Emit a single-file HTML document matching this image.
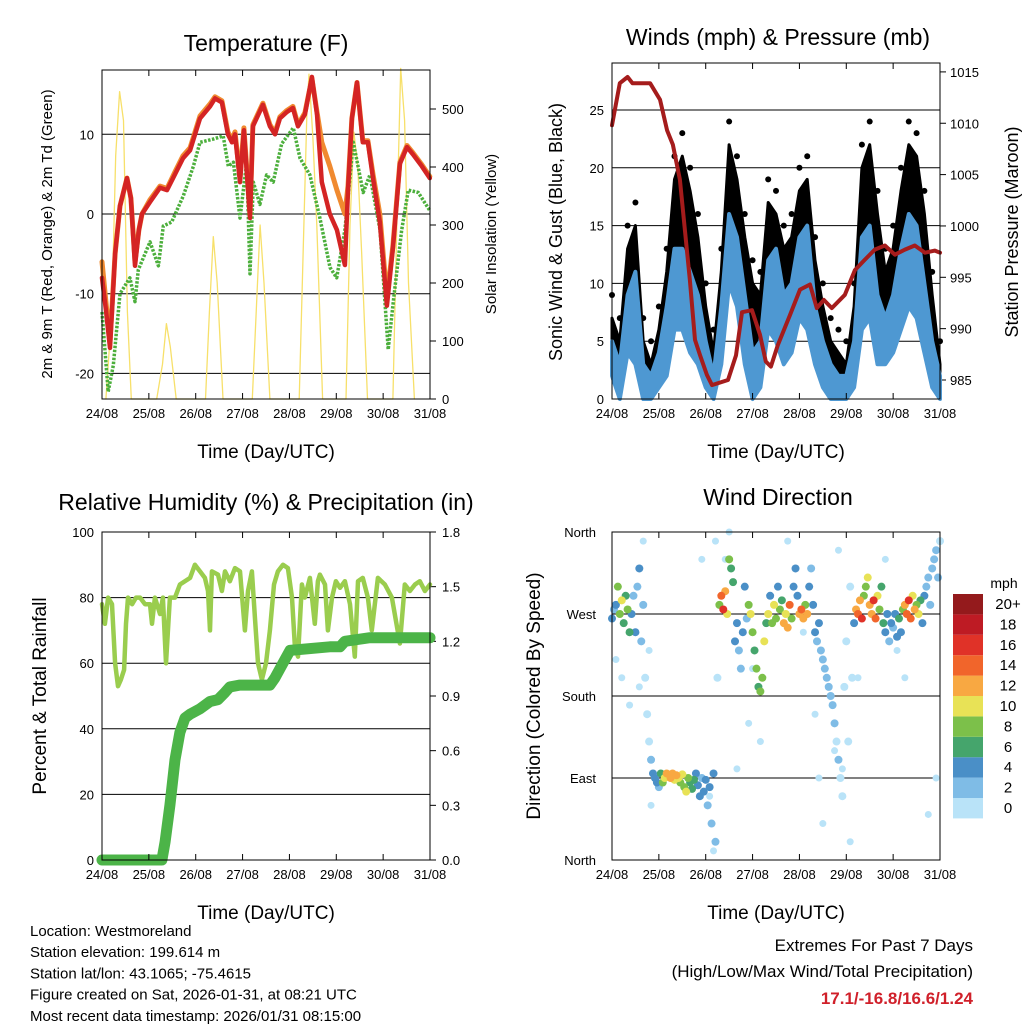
<!DOCTYPE html>
<html><head><meta charset="utf-8"><style>
body{margin:0;background:#fff;}
svg{display:block;font-family:"Liberation Sans",sans-serif;}
</style></head><body>
<svg id="c" width="1024" height="1024" viewBox="0 0 1024 1024" xmlns="http://www.w3.org/2000/svg"></svg>
<script>
// ---------- DATA ----------
const dayLabels=["24/08","25/08","26/08","27/08","28/08","29/08","30/08","31/08"];
const tempTicks=[-20,-10,0,10];
const solarTicks=[0,100,200,300,400,500];
const windTicks=[0,5,10,15,20,25];
const presTicks=[985,990,995,1000,1005,1010,1015];
const rhTicks=[0,20,40,60,80,100];
const precipTicks=["0.0","0.3","0.6","0.9","1.2","1.5","1.8"];
const dirLabels=["North","East","South","West","North"];
const legendLabels=["0","2","4","6","8","10","12","14","16","18","20+"];
const legendColors=["#b9e3f8","#7fbce6","#4a8fc7","#45a56c","#7cc04a","#e8e256","#f8a842","#f1652b","#e03228","#be1b24","#941a1c"];

const redHours=[0,2,4.1,6.7,9.2,12.8,14.8,16.9,18.9,20.5,24.6,29.7,33.3,37.4,41.5,45.1,50.2,55.3,57.9,61.4,64.5,66.6,68.1,70.7,72.7,75.8,77.3,82.4,86,88.6,91.1,94.7,97.8,100.4,103.9,107.5,110.1,112.6,116.7,120.3,124.4,126,128,130.6,133.6,136.2,138.8,142.3,145.9,149,152.6,156.2,159.2,163.8,167.9];
const redTemp=[-8,-12,-16.8,-5,1,4.5,2,-6.5,-2,0,1.5,3.3,3,5,7,8,12,13.5,14.5,14,10,9,10,4,10.5,-0.5,11,13.7,11,10,12,12.8,13.3,11,12.5,17.2,12.5,4,0,-2,-6.4,3,12,16.5,9,9,4.5,-1,-11.5,-4.3,6.3,8.4,7.5,6,4.5];
const orangeTemp=[-6,-11,-16,-5,1,4.5,2,-6,-2,0,1.8,3.5,3.2,5.3,7.3,8.3,12.3,13.8,14.7,14.2,10.3,9.3,10.3,4.5,10.8,0,11.2,13.9,11.2,10.2,12.2,13,13.5,11.2,12.7,17,12.8,9,6,3,0,3.5,12,16.5,9.2,9.2,5,0,-10.5,-4,6.5,8.6,7.7,6.2,4.7];
const tdHours=[0,3.2,5.8,9.2,14.3,16.9,18.6,24.6,28.9,31.4,35.7,41.7,46.8,50.2,57,62.1,64.7,67.3,70.7,74.1,75.8,77.5,80.9,84.3,87.7,92,98,101.4,106.5,111.6,116.8,120.2,124.4,128.7,133.8,137.2,142.4,146.6,149.2,153.5,156.9,162,168];
const tdTemp=[-12.3,-22.3,-19,-10,-8,-11,-7,-3.5,-6.5,-1.5,-1,2.3,6,9,9.4,9.8,6,6.5,-0.5,6.5,-7.5,4,1.2,4.9,4,8.8,10.8,7,4.9,-0.5,-6.7,-8,-2,9,2.7,4.9,-2,-17,-11,-2,3,2.7,0.4];
const solarHours=[2,5,7,9,11,13,15,28,31,33,35,38,53,55,57,59,62,77,79,81,83,86,101,103,105,106,108,110,113,125,127,129,131,133,136,149,151,153,155,157,160];
const solarVals=[0,150,420,530,480,150,0,0,60,130,90,0,0,150,280,200,0,0,150,300,200,0,0,250,500,560,450,300,0,0,300,460,400,250,0,0,300,570,480,200,0];

const windHours=[0,4,8,12,16,20,24,28,32,36,40,44,48,52,56,60,64,68,72,76,80,84,88,92,96,100,104,108,112,116,120,124,128,132,136,140,144,148,152,156,160,164,168];
const windLow=[2,0,4,3,0,0,1,2,6,6,4,3,1,0,3,10,8,3,0,1,6,5,3,4,7,6,3,1,0,0,0,1,6,7,3,3,4,6,8,7,4,1,0];
const windHigh=[5,3,9,11,3,2,4,8,13,13,11,9,5,2,8,16,14,9,4,5,12,13,9,10,14,15,8,5,3,2,2,5,14,15,9,7,9,13,16,15,10,5,2];
const gustVals=[7,5,13,15,5,3,6,11,19,21,18,14,8,4,11,22,19,14,10,9,17,16,13,14,18,19,12,8,5,4,3,8,20,22,16,11,13,18,22,21,16,9,3];
const presHours=[0,4,8,10.5,19.5,24.6,28.2,31.2,34.8,39.9,42.5,45.1,48.6,51.2,59.4,63.5,66.6,71.7,75.8,78.8,81.4,84.9,91.1,96.3,101.4,104.9,108.5,112.6,119.3,124.4,129.5,134.6,139.8,144.9,150,155.1,160.3,165.4,168];
const presVals=[1009.8,1013.9,1014.5,1013.9,1013.9,1012.3,1009.3,1007.9,1004.5,994.7,988.9,987.4,985.5,984.5,985,987.4,991.6,991.8,989.4,986.8,986.3,988.4,991.3,993.8,994.3,992,992.8,992,993.3,995.7,996.7,997.7,998.1,997.2,997.7,998.1,997.4,997.6,997.4];

const rhHours=[0,1.5,3.1,5.1,6.7,8.2,9.7,11.3,12.3,13.3,15.4,17.4,19.5,22,24.6,25.6,27.1,29.7,31.2,32.8,34.8,37.4,39.9,45.1,47.6,50.2,52.7,54.3,55.3,56.3,59.4,61.4,63,65.5,68.1,70.7,73.2,74.8,76.8,78.3,79.9,81.9,84,86,88.1,90.1,92.7,95.2,97.3,98.8,100.4,102.4,103.9,106.5,109,110.6,111.6,114.2,115.7,117.8,119.8,121.9,124.4,127,129.5,131.1,133.6,136.2,138.2,141.3,144.9,148.5,152.6,155.1,157.7,160.3,162.8,165.4,168];
const rhVals=[78,72,80,78,60,53,55,58,72,80,78,80,80,78,78,72,80,75,80,60,80,80,84,86,90,88,86,82,70,88,87,82,88,85,89,88,70,82,88,74,60,55,60,70,84,88,90,89,80,65,62,84,80,86,72,85,87,84,70,80,85,83,85,78,62,85,86,80,70,86,84,80,66,84,82,84,85,82,84];
const precipHours=[0,30.7,32.3,34.8,37.4,39.9,42.5,45.1,50.2,55.3,59.4,63,65.5,70.7,86,88.6,93.7,96.3,116.7,121.9,124.4,137.2,168];
const precipVals=[0,0,0.1,0.3,0.55,0.7,0.78,0.8,0.83,0.87,0.88,0.92,0.95,0.96,0.96,1.0,1.1,1.15,1.17,1.17,1.2,1.22,1.22];

const dirHours=[
 0,1,2,3,4,5,6,7,8,9,
 10,11,12,13,14,15,16,17,18,19,
 20,21,22,23,24,25,26,27,28,29,
 30,31,32,33,34,35,36,37,38,39,
 40,41,42,43,44,45,46,47,48,49,
 50,51,52,53,54,55,56,57,58,59,
 60,61,62,63,64,65,66,67,68,69,
 70,71,72,73,74,75,76,77,78,79,
 80,81,82,83,84,85,86,87,88,89,
 90,91,92,93,94,95,96,97,98,99,
 100,101,102,103,104,105,106,107,108,109,
 110,111,112,113,114,115,116,117,118,119,
 120,121,122,123,124,125,126,127,128,129,
 130,131,132,133,134,135,136,137,138,139,
 140,141,142,143,144,145,146,147,148,149,
 150,151,152,153,154,155,156,157,158,159,
 160,161,162,163,164,165,166,167,168];
const dirVals=[
 265,275,280,300,270,285,260,290,275,250,
 270,290,250,300,320,240,280,200,160,130,
 110,95,90,85,80,95,85,90,95,92,
 90,95,88,93,90,85,94,80,75,90,
 85,78,88,95,82,70,90,75,88,60,
 80,40,95,20,200,280,290,275,295,270,
 330,320,305,240,260,230,210,250,300,265,
 280,270,250,230,210,190,185,200,240,260,
 270,290,260,280,265,300,275,285,260,270,
 255,280,265,300,320,290,270,275,265,280,
 270,300,320,280,250,240,260,230,220,210,
 200,190,180,170,150,130,110,90,70,190,
 240,130,300,200,260,275,270,285,265,290,
 300,310,280,270,285,265,290,275,300,260,
 250,270,240,260,255,270,245,265,250,275,
 280,270,285,265,290,275,280,270,285,260,
 290,300,310,280,320,330,340,310,350];
const dirSpeed=[
 4,3,5,8,9,10,7,6,8,6,
 4,3,5,2,4,2,3,1,1,1,
 2,4,5,4,3,6,8,10,12,11,
 12,12,10,12,11,8,10,9,10,8,
 6,7,6,4,5,4,3,5,4,3,
 5,3,4,2,1,8,14,16,13,10,
 9,6,7,5,4,3,2,4,5,3,
 8,10,8,7,9,7,8,9,11,6,
 10,4,8,10,8,4,9,6,12,10,
 13,15,9,5,4,4,12,14,13,9,
 12,4,3,4,4,3,4,3,3,2,
 3,2,3,2,2,1,2,1,1,1,
 1,1,1,1,4,12,15,13,16,9,
 8,10,13,12,16,14,11,8,7,6,
 4,4,3,4,3,5,4,6,4,8,
 12,14,16,14,11,13,9,11,6,5,
 4,3,3,2,2,3,2,3,1];
const scatterHours=[2,5,9,14,16,19,20,46,50,52,53,58,60,64,70,72,76,90,98,104,106,108,114,116,118,122,126,140,146,150,162,166];
const scatterDirs=[220,200,170,190,350,230,60,330,70,10,350,330,360,100,150,210,130,350,250,160,90,40,120,340,100,20,200,330,230,200,50,90];

// ---------- helpers ----------
const NS="http://www.w3.org/2000/svg";
const svg=document.getElementById('c');
function mk(tag,attrs,parent){const e=document.createElementNS(NS,tag);for(const k in attrs)e.setAttribute(k,attrs[k]);(parent||svg).appendChild(e);return e;}
function txt(s,x,y,size,anchor,parent,extra){const t=mk('text',Object.assign({x:x,y:y,'font-size':size,'text-anchor':anchor||'middle',fill:'#000'},extra||{}),parent);t.textContent=s;return t;}
function line(pts,stroke,w,parent,extra){return mk('polyline',Object.assign({points:pts.map(p=>p[0].toFixed(1)+','+p[1].toFixed(1)).join(' '),fill:'none',stroke:stroke,'stroke-width':w,'stroke-linejoin':'round','stroke-linecap':'round'},extra||{}),parent);}
function panelX(x0){return h=>x0+h*328/168;}

function frame(g,x0,y0,w,h){
  for(let i=0;i<dayLabels.length;i++){
    const x=x0+i*w/7;
    mk('line',{x1:x,y1:y0+h,x2:x,y2:y0+h-6,stroke:'#000','stroke-width':1},g);
    mk('line',{x1:x,y1:y0,x2:x,y2:y0+6,stroke:'#000','stroke-width':1},g);
    const t=txt(dayLabels[i],x,y0+h+19,13,'middle',g);
    
    
  }
  mk('rect',{x:x0,y:y0,width:w,height:h,fill:'none',stroke:'#000','stroke-width':1},g);
  const t=txt('Time (Day/UTC)',x0+w/2,y0+h+59,19,'middle',g);
  
  
}

// ---------- Panel 1 : Temperature ----------
(function(){
  const g=mk('g',{});
  
  
  const X=panelX(102), Y=v=>214-v*7.97, S=v=>399-v*0.58;
  const t=txt('Temperature (F)',266,51,23,'middle',g);
  
  tempTicks.forEach(v=>{mk('line',{x1:102,x2:430,y1:Y(v),y2:Y(v),stroke:'#000','stroke-width':1},g);
    const l=txt(String(v),94,Y(v)+5,13,'end',g);});
  solarTicks.forEach(v=>{mk('line',{x1:430,x2:436,y1:S(v),y2:S(v),stroke:'#000'},g);
    const l=txt(String(v),442,S(v)+5,13,'start',g);});
  const sol=line(solarHours.map((h,i)=>[X(h),S(solarVals[i])]),'#f7e06a',1.3,g);
  
  const td=line(tdHours.map((h,i)=>[X(h),Y(tdTemp[i])]),'#4caf3c',3.5,g,{'stroke-dasharray':'2.5 1.5','stroke-linecap':'butt'});
  
  const or=line(redHours.map((h,i)=>[X(h),Y(orangeTemp[i])]),'#f08a30',5,g);
  
  const rd=line(redHours.map((h,i)=>[X(h),Y(redTemp[i])]),'#d42424',4.5,g);
  
  frame(g,102,70,328,329);
  const a=txt('2m & 9m T (Red, Orange) & 2m Td (Green)',0,0,15,'middle',g,{transform:'translate(52,234) rotate(-90)'});
  
  const b=txt('Solar Insolation (Yellow)',0,0,15,'middle',g,{transform:'translate(496,234) rotate(-90)'});
  
})();

// ---------- Panel 2 : Winds ----------
(function(){
  const g=mk('g',{});
  
  
  const X=panelX(612), Y=v=>399-v*11.56, P=v=>380-(v-985)*10.27;
  const t=txt('Winds (mph) & Pressure (mb)',778,45,23,'middle',g);
  
  windTicks.forEach(v=>{if(v>0)mk('line',{x1:612,x2:940,y1:Y(v),y2:Y(v),stroke:'#000'},g);
    const l=txt(String(v),604,Y(v)+5,13,'end',g);});
  presTicks.forEach(v=>{mk('line',{x1:940,x2:946,y1:P(v),y2:P(v),stroke:'#000'},g);
    const l=txt(String(v),950,P(v)+5,13,'start',g);});
  const up=windHours.map((h,i)=>[X(h),Y(gustVals[i])]);
  const mid=windHours.map((h,i)=>[X(h),Y(windHigh[i])]).reverse();
  const gp=mk('polygon',{points:up.concat(mid).map(p=>p[0].toFixed(1)+','+p[1].toFixed(1)).join(' '),fill:'#000',stroke:'#000','stroke-width':3,'stroke-linejoin':'round'},g);
  
  windHours.forEach((h,i)=>{const c=mk('circle',{cx:X(h),cy:Y(gustVals[i]+2),r:3,fill:'#000'},g);
    });
  const hi=windHours.map((h,i)=>[X(h),Y(windHigh[i])]);
  const lo=windHours.map((h,i)=>[X(h),Y(windLow[i])]).reverse();
  const wp=mk('polygon',{points:hi.concat(lo).map(p=>p[0].toFixed(1)+','+p[1].toFixed(1)).join(' '),fill:'#4e98d2',stroke:'#4e98d2','stroke-width':4,'stroke-linejoin':'round'},g);
  
  const pr=line(presHours.map((h,i)=>[X(h),P(presVals[i])]),'#a51c1c',4,g);
  
  frame(g,612,63,328,336);
  const a=txt('Sonic Wind & Gust (Blue, Black)',0,0,18,'middle',g,{transform:'translate(562,232) rotate(-90)'});
  
  const b=txt('Station Pressure (Maroon)',0,0,18,'middle',g,{transform:'translate(1018,232) rotate(-90)'});
  
})();

// ---------- Panel 3 : RH ----------
(function(){
  const g=mk('g',{});
  
  
  const X=panelX(102), Y=v=>860-v*3.28, R=v=>860-v*328/1.8;
  const t=txt('Relative Humidity (%) & Precipitation (in)',266,510,23,'middle',g);
  
  rhTicks.forEach(v=>{if(v>0&&v<100)mk('line',{x1:102,x2:430,y1:Y(v),y2:Y(v),stroke:'#000'},g);
    const l=txt(String(v),94,Y(v)+5,13,'end',g);});
  precipTicks.forEach(s=>{const v=parseFloat(s);mk('line',{x1:430,x2:436,y1:R(v),y2:R(v),stroke:'#000'},g);
    const l=txt(s,442,R(v)+5,13,'start',g);});
  const rh=line(rhHours.map((h,i)=>[X(h),Y(rhVals[i])]),'#9acd4e',4.5,g);
  
  const pc=line(precipHours.map((h,i)=>[X(h),R(precipVals[i])]),'#4cb448',11,g);
  
  frame(g,102,532,328,328);
  const a=txt('Percent & Total Rainfall',0,0,19,'middle',g,{transform:'translate(46,696) rotate(-90)'});
  
})();

// ---------- Panel 4 : Wind Direction ----------
(function(){
  const g=mk('g',{});
  
  
  const X=panelX(612), Y=d=>860-d*328/360;
  const t=txt('Wind Direction',778,505,23,'middle',g);
  
  dirLabels.forEach((s,i)=>{const y=Y(i*90);if(i>0&&i<4)mk('line',{x1:612,x2:940,y1:y,y2:y,stroke:'#000'},g);
    const l=txt(s,596,y+5,13,'end',g);});
  function col(s){return legendColors[Math.min(10,Math.max(0,Math.floor(s/2)))];}
  scatterHours.forEach((h,i)=>{
    const c=mk('circle',{cx:X(h),cy:Y(scatterDirs[i]),r:3.5,fill:legendColors[0]},g);
    
    
  });
  const order=dirHours.map((h,i)=>i).sort((a,b)=>dirSpeed[a]-dirSpeed[b]);
  order.forEach(i=>{
    const c=mk('circle',{cx:X(dirHours[i]),cy:Y(dirVals[i]),r:4,fill:col(dirSpeed[i])},g);
    
    
  });
  frame(g,612,532,328,328);
  const a=txt('Direction (Colored By Speed)',0,0,19,'middle',g,{transform:'translate(540,696) rotate(-90)'});
  
  const lg=mk('g',{},g);
  
  
  const u=txt('mph',1004,588,14,'middle',lg);
  
  legendColors.forEach((c,i)=>{
    const y=798-i*20.4;
    const r=mk('rect',{x:953,y:y,width:30,height:20.4,fill:c},lg);
    
    const l=txt(legendLabels[i],1008,y+15,15,'middle',lg);
    
  });
})();

// ---------- Footer text ----------
(function(){
  const g=mk('g',{});
  
  
  const lines=["Location: Westmoreland","Station elevation: 199.614 m","Station lat/lon: 43.1065; -75.4615","Figure created on Sat, 2026-01-31, at 08:21 UTC","Most recent data timestamp: 2026/01/31 08:15:00"];
  lines.forEach((s,i)=>{const t=txt(s,30,936+i*21.2,15,'start',g);});
  const e=mk('g',{});
  
  
  const a=txt('Extremes For Past 7 Days',973,951,17,'end',e);
  const b=txt('(High/Low/Max Wind/Total Precipitation)',973,977,17,'end',e);
  const c=txt('17.1/-16.8/16.6/1.24',973,1004,17,'end',e,{fill:'#d0202a','font-weight':'bold'});
})();
</script>
</body></html>
